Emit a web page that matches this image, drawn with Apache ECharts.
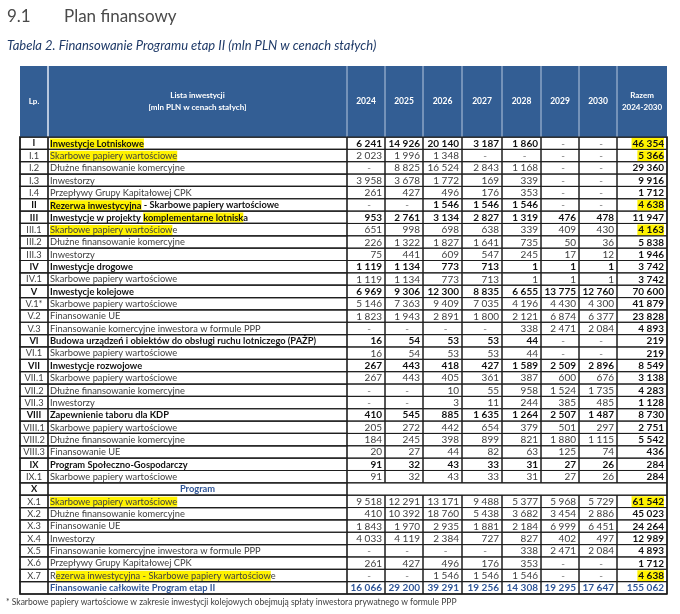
<!DOCTYPE html>
<html><head><meta charset="utf-8">
<script src="https://cdn.jsdelivr.net/npm/echarts/dist/echarts.min.js"></script>
<style>html,body{margin:0;padding:0;background:#fff}#c{width:680px;height:614px}</style>
</head><body><div id="c"></div>
<script>
// ---------------- DATA ----------------
const lp = ['I','I.1','I.2','I.3','I.4','II','III','III.1','III.2','III.3','IV','IV.1','V','V.1*','V.2','V.3','VI','VI.1','VII','VII.1','VII.2','VII.3','VIII','VIII.1','VIII.2','VIII.3','IX','IX.1','X','X.1','X.2','X.3','X.4','X.5','X.6','X.7',''];
const labels = [
 'Inwestycje Lotniskowe','Skarbowe papiery wartościowe','Dłużne finansowanie komercyjne','Inwestorzy','Przepływy Grupy Kapitałowej CPK',
 'Rezerwa inwestycyjna - Skarbowe papiery wartościowe','Inwestycje w projekty komplementarne lotniska','Skarbowe papiery wartościowe','Dłużne finansowanie komercyjne','Inwestorzy',
 'Inwestycje drogowe','Skarbowe papiery wartościowe','Inwestycje kolejowe','Skarbowe papiery wartościowe','Finansowanie UE','Finansowanie komercyjne inwestora w formule PPP',
 'Budowa urządzeń i obiektów do obsługi ruchu lotniczego (PAŻP)','Skarbowe papiery wartościowe','Inwestycje rozwojowe','Skarbowe papiery wartościowe','Dłużne finansowanie komercyjne','Inwestorzy',
 'Zapewnienie taboru dla KDP','Skarbowe papiery wartościowe','Dłużne finansowanie komercyjne','Finansowanie UE','Program Społeczno-Gospodarczy','Skarbowe papiery wartościowe',
 'Program','Skarbowe papiery wartościowe','Dłużne finansowanie komercyjne','Finansowanie UE','Inwestorzy','Finansowanie komercyjne inwestora w formule PPP','Przepływy Grupy Kapitałowej CPK','Rezerwa inwestycyjna - Skarbowe papiery wartościowe',
 'Finansowanie całkowite Program etap II'];
const rowKind = ['main','sub','sub','sub','sub','main','main','sub','sub','sub','main','sub','main','sub','sub','sub','main','sub','main','sub','sub','sub','main','sub','sub','sub','main','sub','section','sub','sub','sub','sub','sub','sub','sub','total'];
const years = ['2024','2025','2026','2027','2028','2029','2030'];
const razemLabel = 'Razem\n2024-2030';
const listHeader = 'Lista inwestycji\n[mln PLN w cenach stałych]';
const lpHeader = 'Lp.';
const v2024 = [6241,2023,null,3958,261,null,953,651,226,75,1119,1119,6969,5146,1823,null,16,16,267,267,null,null,410,205,184,20,91,91,'',9518,410,1843,4033,null,261,null,16066];
const v2025 = [14926,1996,8825,3678,427,null,2761,998,1322,441,1134,1134,9306,7363,1943,null,54,54,443,443,null,null,545,272,245,27,32,32,'',12291,10392,1970,4119,null,427,null,29200];
const v2026 = [20140,1348,16524,1772,496,1546,3134,698,1827,609,773,773,12300,9409,2891,null,53,53,418,405,10,3,885,442,398,44,43,43,'',13171,18760,2935,2384,null,496,1546,39291];
const v2027 = [3187,null,2843,169,176,1546,2827,638,1641,547,713,713,8835,7035,1800,null,53,53,427,361,55,11,1635,654,899,82,33,33,'',9488,5438,1881,727,null,176,1546,19256];
const v2028 = [1860,null,1168,339,353,1546,1319,339,735,245,1,1,6655,4196,2121,338,44,44,1589,387,958,244,1264,379,821,63,31,31,'',5377,3682,2184,827,338,353,1546,14308];
const v2029 = [null,null,null,null,null,null,476,409,50,17,1,1,13775,4430,6874,2471,null,null,2509,600,1524,385,2507,501,1880,125,27,27,'',5968,3454,6999,402,2471,null,null,19295];
const v2030 = [null,null,null,null,null,null,478,430,36,12,1,1,12760,4300,6377,2084,null,null,2896,676,1735,485,1487,297,1115,74,26,26,'',5729,2886,6451,497,2084,null,null,17647];
const razem = [46354,5366,29360,9916,1712,4638,11947,4163,5838,1946,3742,3742,70600,41879,23828,4893,219,219,8549,3138,4283,1128,8730,2751,5542,436,284,284,'',61542,45023,24264,12989,4893,1712,4638,155062];
const labelHighlight = {0:'Inwestycje Lotniskowe',1:'Skarbowe papiery wartościowe',5:'Rezerwa inwestycyjna',6:'komplementarne lotnisk',7:'Skarbowe papiery wartościow',29:'Skarbowe papiery wartościowe',35:'ezerwa inwestycyjna - Skarbowe papiery wartościow'};
const razemHighlight = [0,1,5,7,29,35];
const footnote = '* Skarbowe papiery wartościowe w zakresie inwestycji kolejowych obejmują spłaty inwestora prywatnego w formule PPP';

// ---------------- LAYOUT ----------------
const colEdges = [0,28,327,365,403,442,482,521,559,597,647];
const valueCols = [v2024,v2025,v2026,v2027,v2028,v2029,v2030,razem];
const FONT = 'Lato, "Open Sans", sans-serif';
const FS = '10px ';
const FL = '9.3px ';
const HL = '#fff200';
const BLUE = '#2f5597';
const HEADBG = '#335e94';

function fmt(v){ return v == null ? '-' : String(v).replace(/\B(?=(\d{3})+(?!\d))/g,' '); }

function renderHeader(params, api){
  const p = api.coord([0,0]);
  const h = api.size([0,1])[1];
  const top = p[1]-h/2, cy = p[1];
  const xs = colEdges.map(e => api.coord([e,0])[0]);
  const ch = [{type:'rect', shape:{x:xs[0],y:top,width:xs[10]-xs[0],height:h}, style:{fill:HEADBG}}];
  for (let i=1;i<10;i++) ch.push({type:'line', shape:{x1:xs[i],y1:top,x2:xs[i],y2:top+h}, style:{stroke:'#b7c7de',lineWidth:i===1?2:1}});
  const ts = {fill:'#fff', font:'bold 8px '+FONT, align:'center', verticalAlign:'middle', lineHeight:12};
  ch.push({type:'text', x:(xs[0]+xs[1])/2, y:cy, style:Object.assign({text:lpHeader}, ts)});
  ch.push({type:'text', x:(xs[1]+xs[2])/2, y:cy, style:Object.assign({text:listHeader}, ts)});
  years.forEach((yr,i)=> ch.push({type:'text', x:(xs[i+2]+xs[i+3])/2, y:cy, style:Object.assign({text:yr}, ts, {font:'bold 8.5px '+FONT})}));
  ch.push({type:'text', x:(xs[9]+xs[10])/2, y:cy, style:Object.assign({text:razemLabel}, ts)});
  return {type:'group', children:ch};
}

function richLabel(i){
  const t = labels[i], hl = labelHighlight[i];
  if (!hl) return '{n|'+t+'}';
  const k = t.indexOf(hl);
  let s = '';
  if (k>0) s += '{n|'+t.slice(0,k)+'}';
  s += '{h|'+hl+'}';
  if (k+hl.length < t.length) s += '{n|'+t.slice(k+hl.length)+'}';
  return s;
}

function renderBody(params, api){
  const r = api.value(1);
  const p = api.coord([0,r]);
  const h = api.size([0,1])[1];
  const top = p[1]-h/2, cy = p[1]+0.3;
  const xs = colEdges.map(e => api.coord([e,r])[0]);
  const kind = rowKind[r];
  const bold = kind !== 'sub';
  const ch = [];
  const stroke = '#1e1e1e';
  const cellX = kind === 'section' ? [0,1,2,10] : colEdges.map((e,i)=>i);
  for (let k=0;k<cellX.length-1;k++){
    const a = xs[cellX[k]], b = xs[cellX[k+1]];
    ch.push({type:'rect', shape:{x:a,y:top,width:b-a,height:h}, style:{fill:'none', stroke:stroke, lineWidth:k<2?1.2:1}});
  }
  const txtCol = kind==='total' ? BLUE : (bold ? '#111' : '#404040');
  const fw = bold ? 'bold ' : '';
  ch.push({type:'text', x:(xs[0]+xs[1])/2, y:cy, style:{text:lp[r], font:fw+FL+FONT, fill:txtCol, align:'center', verticalAlign:'middle'}});
  if (kind === 'section'){
    ch.push({type:'text', x:(xs[1]+xs[2])/2, y:cy, style:{text:labels[r], font:'bold '+FL+FONT, fill:BLUE, align:'center', verticalAlign:'middle'}});
  } else {
    const f = fw+FL+FONT;
    ch.push({type:'text', x:xs[1]+2, y:cy, style:{text:richLabel(r), font:f, fill:txtCol, align:'left', verticalAlign:'middle',
      rich:{n:{font:f, fill:txtCol}, h:{font:f, fill:txtCol, backgroundColor:HL, padding:[1,0,0,0]}}}});
    valueCols.forEach((arr,c)=>{
      const v = arr[r];
      const isRazem = c === 7;
      const cb = bold || isRazem;
      const a = xs[c+2], b = xs[c+3];
      if (v == null){
        ch.push({type:'text', x:(a+b)/2+3, y:cy, style:{text:'-', font:FS+FONT, fill:'#777', align:'center', verticalAlign:'middle'}});
      } else {
        const st = {text:fmt(v), font:(cb?'bold ':'')+FS+FONT, fill: kind==='total'?BLUE:(cb?'#111':'#404040'), align:'right', verticalAlign:'middle'};
        if (isRazem && razemHighlight.indexOf(r)>=0){ st.backgroundColor = HL; st.padding=[1,0,0,1]; }
        ch.push({type:'text', x:b-3, y:cy, style:st});
      }
    });
  }
  return {type:'group', children:ch};
}

const chart = echarts.init(document.getElementById('c'), null, {renderer:'canvas'});
const rowIdx = lp.map((d,i)=>String(i));
chart.setOption({
  animation:false,
  backgroundColor:'#fff',
  grid:[
    {left:20, top:66, width:647, height:71, show:false},
    {left:20, top:137, width:647, height:457, show:true, borderColor:'#111', borderWidth:1.5, backgroundColor:'#fff'}
  ],
  xAxis:[
    {gridIndex:0, type:'value', min:0, max:647, show:false},
    {gridIndex:1, type:'value', min:0, max:647, show:false}
  ],
  yAxis:[
    {gridIndex:0, type:'category', data:['h'], show:false},
    {gridIndex:1, type:'category', data:rowIdx, inverse:true, show:false}
  ],
  graphic:[
    {type:'text', left:7, top:8, style:{text:'9.1', font:'17px '+FONT, fill:'#4a4a4a'}},
    {type:'text', left:64, top:8, style:{text:'Plan finansowy', font:'17px '+FONT, fill:'#4a4a4a'}},
    {type:'text', left:7, top:39, style:{text:'Tabela 2. Finansowanie Programu etap II (mln PLN w cenach stałych)', font:'italic 13px '+FONT, fill:'#1f3a68'}},
    {type:'text', left:6, top:598, style:{text:footnote, font:'8.5px '+FONT, fill:'#404040'}}
  ],
  series:[
    {type:'custom', xAxisIndex:0, yAxisIndex:0, renderItem:renderHeader, data:[[0,0]], silent:true, clip:false},
    {type:'custom', xAxisIndex:1, yAxisIndex:1, renderItem:renderBody, data:lp.map((d,i)=>[0,i]), silent:true, clip:false}
  ]
});
</script></body></html>
